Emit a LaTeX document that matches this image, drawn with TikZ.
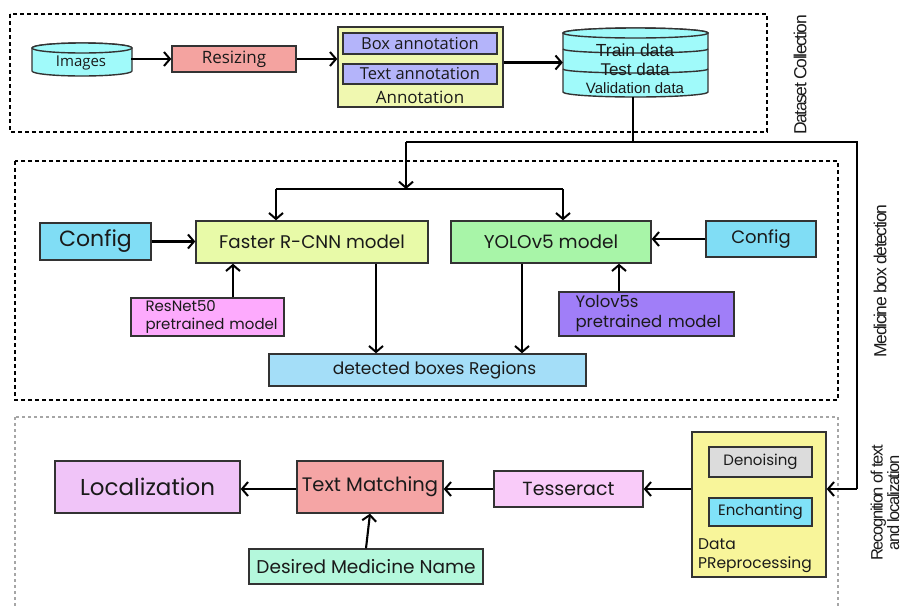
\documentclass[tikz,border=0pt]{standalone}
\usepackage{fontspec}
\setmainfont{Poppins}
\newfontfamily\arf{Liberation Sans}
\newfontfamily\osf{Open Sans}
\usetikzlibrary{arrows.meta}
\definecolor{cyanc}{HTML}{A0FAFA}
\definecolor{resc}{HTML}{F4A3A0}
\definecolor{annc}{HTML}{F0F8B0}
\definecolor{lavc}{HTML}{B4B4FA}
\definecolor{cfgc}{HTML}{80DDF5}
\definecolor{frc}{HTML}{E8FAA8}
\definecolor{rnc}{HTML}{FDAAFD}
\definecolor{detc}{HTML}{A4DEF8}
\definecolor{yoc}{HTML}{A8F5A8}
\definecolor{yspc}{HTML}{A07EF8}
\definecolor{dpc}{HTML}{F8F59A}
\definecolor{dnc}{HTML}{DCDCDC}
\definecolor{enc}{HTML}{80E2F8}
\definecolor{tesc}{HTML}{F9CBF9}
\definecolor{tmc}{HTML}{F5A5A5}
\definecolor{locc}{HTML}{F0C4F8}
\definecolor{desc}{HTML}{B4F8DC}
\definecolor{edgec}{HTML}{333333}
\definecolor{txtc}{HTML}{1A1A1A}
\begin{document}
\begin{tikzpicture}[x=1pt,y=-1pt,text=txtc,
  box/.style={draw=edgec,line width=1.4pt,inner sep=0pt,align=center},
  arr/.style={line width=2.1pt,-{Straight Barb[length=6pt,width=14pt,line width=2pt]}},
  trunk/.style={line width=2.8pt},
  grp/.style={line width=2pt,dash pattern=on 4pt off 3pt},
  grpb/.style={line width=1.5pt,gray!70,dash pattern=on 3pt off 3pt},
  side/.style={rotate=90,font=\arf\fontsize{17.5}{15}\selectfont\addfontfeature{LetterSpace=-8},align=center},
  cyl/.style={draw=edgec,line width=1.4pt,fill=cyanc}
]
\useasboundingbox (0,0) rectangle (902,606);

% group frames
\draw[grp] (10,14) rectangle (767,132);
\draw[grp] (15,161) rectangle (838,400);
\draw[grpb] (15,417) rectangle (838,640);
\node[side] (lab1) at (800,75) {Dataset Collection};
\node[side] (lab2) at (880,281) {Medicine box detection};
\node[side,font=\arf\fontsize{16.5}{14}\selectfont\addfontfeature{LetterSpace=-8}] (lab3) at (885,503) {Recognition of text\\and localization};

% Images cylinder
\filldraw[cyl] (32,48) -- (32,71) arc[start angle=180,end angle=0,x radius=50,y radius=5] -- (132,48) arc[start angle=0,end angle=-180,x radius=50,y radius=5] -- cycle;
\draw[cyl] (82,48) ellipse[x radius=50,y radius=5];
\node[inner sep=0pt,minimum width=100pt,minimum height=26pt,font=\osf\fontsize{15}{15}\selectfont] (img) at (81,63) {Images};

\node[box,fill=resc,minimum width=124pt,minimum height=26pt,font=\osf\fontsize{17}{17}\selectfont] (resz) at (234,59) {Resizing};

% Annotation
\node[box,fill=annc,minimum width=165pt,minimum height=80pt] (annot) at (420.5,67) {};
\node[box,fill=lavc,minimum width=154pt,minimum height=21pt,font=\osf\fontsize{16.5}{16.5}\selectfont] (boxa) at (420,43.5) {Box annotation};
\node[box,fill=lavc,minimum width=154pt,minimum height=20pt,font=\osf\fontsize{16.5}{16.5}\selectfont] (texta) at (420,74) {Text annotation};
\node[inner sep=0pt,font=\osf\fontsize{17}{17}\selectfont] (annl) at (420,97) {Annotation};

% Database cylinder
\filldraw[cyl] (563,33) -- (563,92) arc[start angle=180,end angle=0,x radius=72.5,y radius=5] -- (708,33) arc[start angle=0,end angle=-180,x radius=72.5,y radius=5] -- cycle;
\draw[cyl] (635.5,33) ellipse[x radius=72.5,y radius=5];
\draw[draw=edgec,line width=1.4pt] (563,49) arc[start angle=180,end angle=0,x radius=72.5,y radius=4];
\draw[draw=edgec,line width=1.4pt] (563,69) arc[start angle=180,end angle=0,x radius=72.5,y radius=4];
\node[inner sep=0pt,minimum width=145pt,minimum height=69pt] (db) at (635.5,62.5) {};
\node[inner sep=0pt,font=\arf\fontsize{17.5}{17.5}\selectfont] (tr) at (635,50) {Train data};
\node[inner sep=0pt,font=\arf\fontsize{17}{17}\selectfont] (te) at (635,69) {Test data};
\node[inner sep=0pt,font=\arf\fontsize{15}{15}\selectfont] (va) at (635,88) {Validation data};

\draw[arr] (img.east |- resz) -- (resz.west);
\draw[arr] (resz.east) -- (resz.east -| annot.west);
\draw[arr] (annot.east |- db) -- (db.west);

% trunk
\coordinate (j0) at (633,142);
\coordinate (jl) at (406,142);
\coordinate (jr) at (857,142);
\coordinate (jm) at (406,189);
\coordinate (sl) at (276,189);
\coordinate (sr) at (563,189);
\coordinate (rt) at (857,489);
\draw[trunk] (db.south -| j0) -- (j0);
\draw[trunk] (jl) -- (jr) -- (rt);
\draw[arr,line width=2.4pt] (jl) -- (jm);
\draw[line width=2.4pt] (sl) -- (sr);

% Detection
\node[box,fill=cfgc,minimum width=111pt,minimum height=37pt,font=\fontsize{22}{22}\selectfont] (cfgl) at (95.5,241.5) {Config};
\node[box,fill=frc,minimum width=232pt,minimum height=42pt,font=\fontsize{18.3}{18}\selectfont] (fr) at (312,242) {Faster R-CNN model};
\node[box,fill=rnc,minimum width=153pt,minimum height=38pt,font=\fontsize{15}{18}\selectfont,align=left,text width=124pt] (rn) at (207.5,317) {\mbox{ResNet50}\\\mbox{pretrained model}};
\node[box,fill=detc,minimum width=317pt,minimum height=32pt,font=\fontsize{17}{17}\selectfont] (det) at (427.5,370) {\hspace*{14pt}detected boxes Regions};
\node[box,fill=yoc,minimum width=200pt,minimum height=42pt,font=\fontsize{18.5}{18}\selectfont] (yo) at (551,242) {YOLOv5 model};
\node[box,fill=cfgc,minimum width=110pt,minimum height=36pt,font=\fontsize{18}{18}\selectfont] (cfgr) at (761,239) {Config};
\node[box,fill=yspc,minimum width=175pt,minimum height=44pt,font=\fontsize{16.5}{20}\selectfont,align=left,text width=142pt] (ys) at (646.5,314) {\mbox{Yolov5s}\\\mbox{pretrained model}};

\draw[arr,line width=2.2pt] (sl) -- (sl |- fr.north);
\draw[arr,line width=2.2pt] (sr) -- (sr |- yo.north);
\draw[arr] (cfgl.east) -- (cfgl.east -| fr.west);
\draw[arr] (cfgr.west) -- (cfgr.west -| yo.east);
\draw[arr] (rn.north -| 233,0) -- (fr.south -| 233,0);
\draw[arr] (ys.north -| 619,0) -- (yo.south -| 619,0);
\draw[arr] (fr.south -| 376,0) -- (det.north -| 376,0);
\draw[arr] (yo.south -| 522,0) -- (det.north -| 522,0);

% Recognition
\node[box,fill=dpc,minimum width=134pt,minimum height=145pt] (dp) at (759,504.5) {};
\node[box,fill=dnc,minimum width=103pt,minimum height=30pt,font=\fontsize{15}{15}\selectfont] (dn) at (760.5,462) {Denoising};
\node[box,fill=enc,minimum width=103pt,minimum height=28pt,font=\fontsize{15}{15}\selectfont] (en) at (760.5,512) {Enchanting};
\node[inner sep=0pt,align=left,anchor=north west,font=\fontsize{15.5}{19}\selectfont] (dpl) at (698,538) {Data\\PReprocessing};
\node[box,fill=tesc,minimum width=149pt,minimum height=36pt,font=\fontsize{19}{19}\selectfont] (tes) at (568.5,489) {Tesseract};
\node[box,fill=tmc,minimum width=146pt,minimum height=52pt,font=\fontsize{19.5}{19}\selectfont] (tm) at (370,487) {Text Matching};
\node[box,fill=locc,minimum width=185pt,minimum height=52pt,font=\fontsize{23}{23}\selectfont] (loc) at (147.5,487) {Localization};
\node[box,fill=desc,minimum width=234pt,minimum height=35pt,font=\fontsize{18.5}{18}\selectfont] (des) at (366,566.5) {Desired Medicine Name};

\draw[arr,line width=2.4pt] (rt) -- (rt -| dp.east);
\draw[arr] (dp.west |- tes) -- (tes.east);
\draw[arr] (tes.west) -- (tes.west -| tm.east);
\draw[arr] (tm.west |- tes) -- (tm.west |- tes -| loc.east);
\draw[arr] (des.north) -- (tm.south);
\end{tikzpicture}
\end{document}
